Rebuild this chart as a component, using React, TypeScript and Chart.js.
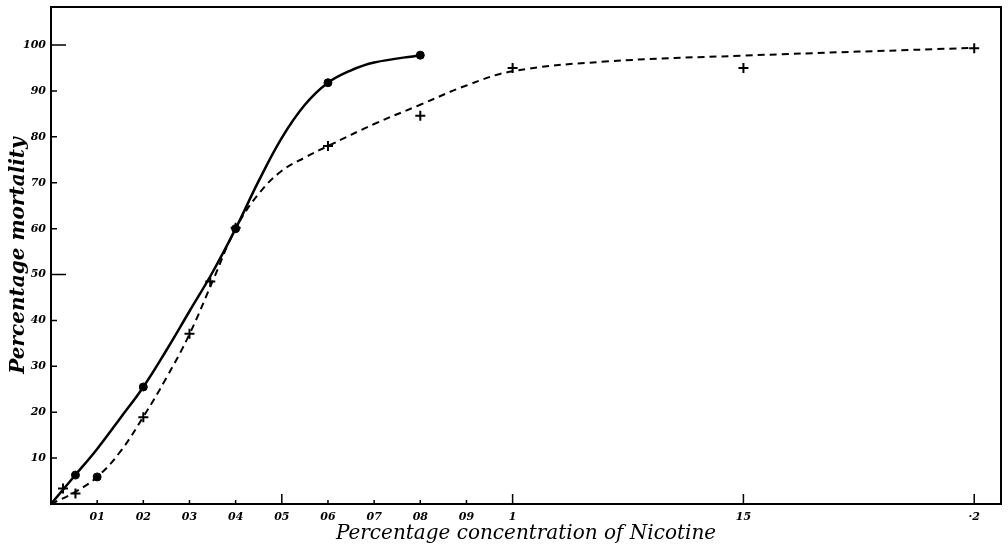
import React, { useEffect, useRef } from "react";
import { Chart, registerables } from "chart.js";

Chart.register(...registerables);

// Tick values and labels
const xTickValues = [0.01, 0.02, 0.03, 0.04, 0.05, 0.06, 0.07, 0.08, 0.09, 0.1, 0.15, 0.2];
const xTickLabels = ["01", "02", "03", "04", "05", "06", "07", "08", "09", "1", "15", "·2"];
const xLongTicks = [0.05, 0.1, 0.15, 0.2];
const yTickValues = [10, 20, 30, 40, 50, 60, 70, 80, 90, 100];
const yTickLabels = ["10", "20", "30", "40", "50", "60", "70", "80", "90", "100"];
const yLongTicks = [50, 100];

// Observed points (solid dots)
const dotX = [0.0053, 0.01, 0.02, 0.04, 0.06, 0.08];
const dotY = [6.3, 5.9, 25.5, 60, 91.8, 97.8];

// Observed points (crosses)
const crossX = [0.0026, 0.0053, 0.02, 0.03, 0.0345, 0.04, 0.06, 0.08, 0.1, 0.15, 0.2];
const crossY = [3.4, 2.3, 18.9, 37.1, 48.5, 60.2, 78, 84.6, 95, 95, 99.3];

// Freehand fitted curves
const solidCurveX = [0, 0.005, 0.01, 0.015, 0.02, 0.025, 0.03, 0.035, 0.04, 0.045, 0.05, 0.055, 0.06, 0.065, 0.07, 0.08];
const solidCurveY = [0, 6, 12, 18.7, 25.5, 33.5, 42, 50.5, 60, 70.4, 79.8, 87, 91.8, 94.5, 96.2, 97.8];

const dashedCurveX = [0, 0.005, 0.01, 0.015, 0.02, 0.025, 0.03, 0.035, 0.04, 0.045, 0.05, 0.055, 0.06, 0.07, 0.08, 0.09, 0.1, 0.12, 0.15, 0.2];
const dashedCurveY = [0, 2.5, 5.9, 11.4, 19, 27.5, 37, 48.5, 60, 67.6, 72.6, 75.5, 78, 82.8, 87, 91.2, 94.3, 96.4, 97.7, 99.4];

const xTitle = "Percentage concentration of Nicotine";
const yTitle = "Percentage mortality";

const toPts = (xs: number[], ys: number[]) => xs.map((x, i) => ({ x, y: ys[i] }));

const frame = {
  id: "frame",
  afterDraw(chart: any) {
    const { ctx, chartArea: a, scales } = chart;
    ctx.save();
    ctx.strokeStyle = "#000";
    ctx.lineWidth = 2;
    ctx.strokeRect(a.left, a.top, a.right - a.left, a.bottom - a.top);
    ctx.lineWidth = 1.5;
    ctx.beginPath();
    for (const t of scales.x.ticks) {
      const px = scales.x.getPixelForValue(t.value);
      const len = xLongTicks.includes(t.value) ? 10 : 4;
      ctx.moveTo(px, a.bottom);
      ctx.lineTo(px, a.bottom - len);
    }
    for (const t of scales.y.ticks) {
      const py = scales.y.getPixelForValue(t.value);
      const len = yLongTicks.includes(t.value) ? 15 : 6;
      ctx.moveTo(a.left, py);
      ctx.lineTo(a.left + len, py);
    }
    ctx.stroke();
    ctx.restore();
  },
};

const tickFont = { family: "'DejaVu Serif', serif", style: "italic" as const, weight: "bold" as const, size: 11 };

export default function App() {
  const ref = useRef<HTMLCanvasElement>(null);
  useEffect(() => {
    if (!ref.current) return;
    const chart = new Chart(ref.current, {
      type: "scatter",
      data: {
        datasets: [
          {
            label: "solid curve",
            data: toPts(solidCurveX, solidCurveY),
            showLine: true,
            borderColor: "#000",
            borderWidth: 2.5,
            pointRadius: 0,
            tension: 0.4,
          } as any,
          {
            label: "dashed curve",
            data: toPts(dashedCurveX, dashedCurveY),
            showLine: true,
            borderColor: "#000",
            borderWidth: 2,
            borderDash: [7, 5],
            pointRadius: 0,
            tension: 0.4,
          } as any,
          {
            label: "dots",
            data: toPts(dotX, dotY),
            pointStyle: "circle",
            pointRadius: 4,
            backgroundColor: "#000",
            borderColor: "#000",
          },
          {
            label: "crosses",
            data: toPts(crossX, crossY),
            pointStyle: "cross",
            pointRadius: 5,
            borderWidth: 2,
            borderColor: "#000",
            backgroundColor: "#000",
          },
        ],
      },
      options: {
        animation: false,
        responsive: false,
        layout: { padding: { left: 0, right: 6, top: 6, bottom: 0 } },
        plugins: { legend: { display: false }, tooltip: { enabled: false } },
        scales: {
          x: {
            type: "linear",
            min: 0,
            max: 0.2058,
            afterBuildTicks: (s: any) => {
              s.ticks = xTickValues.map((v) => ({ value: v }));
            },
            afterFit: (s: any) => {
              s.height = 48;
              s.paddingLeft = 0;
              s.paddingRight = 0;
            },
            grid: { display: false, drawTicks: false },
            border: { display: false },
            ticks: {
              autoSkip: false,
              maxRotation: 0,
              padding: 7,
              color: "#000",
              font: tickFont,
              callback: (_v: any, i: number) => xTickLabels[i],
            },
            title: {
              display: true,
              text: xTitle,
              color: "#000",
              padding: { top: 0, bottom: 6 },
              font: { family: "'DejaVu Serif', serif", style: "italic", size: 20, lineHeight: 1.2 },
            },
          },
          y: {
            type: "linear",
            min: 0,
            max: 108.3,
            afterBuildTicks: (s: any) => {
              s.ticks = yTickValues.map((v) => ({ value: v }));
            },
            afterFit: (s: any) => {
              s.width = 51;
              s.paddingTop = 0;
              s.paddingBottom = 0;
            },
            grid: { display: false, drawTicks: false },
            border: { display: false },
            ticks: {
              autoSkip: false,
              padding: 5,
              color: "#000",
              font: tickFont,
              callback: (_v: any, i: number) => yTickLabels[i],
            },
            title: {
              display: true,
              text: yTitle,
              color: "#000",
              padding: { top: 7, bottom: 0 },
              font: { family: "'DejaVu Serif', serif", style: "italic", weight: "bold", size: 20, lineHeight: 1.2 },
            },
          },
        },
      },
      plugins: [frame],
    });
    return () => chart.destroy();
  }, []);
  return (
    <div style={{ position: "absolute", left: 0, top: 0, width: 1008, height: 552, background: "#fff" }}>
      <canvas ref={ref} width={1008} height={552} />
    </div>
  );
}
